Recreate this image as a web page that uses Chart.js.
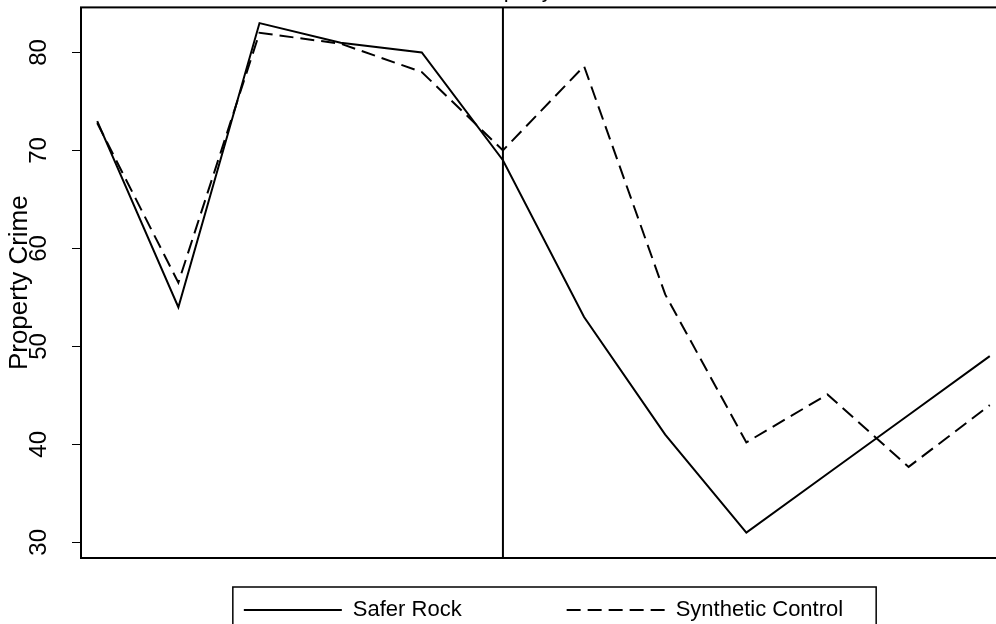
<!DOCTYPE html>
<html>
<head>
<meta charset="utf-8">
<title>Property Crime</title>
<script src="https://cdn.jsdelivr.net/npm/chart.js@4.4.1/dist/chart.umd.min.js"></script>
<style>
  html, body { margin: 0; padding: 0; background: #fff; overflow: hidden; width: 996px; height: 624px; }
  #wrap { position: absolute; left: 0; top: -22px; }
  canvas { display: block; }
</style>
</head>
<body>
<div id="wrap"><canvas id="crimeChart" width="1010" height="653"></canvas></div>
<script>
// periods along the x axis (no tick labels are shown in the figure)
const periods = [1, 2, 3, 4, 5, 6, 7, 8, 9, 10, 11, 12];
const saferRock = [73, 54, 83, 81, 80, 69, 53, 41, 31, 37, 43, 49];
const syntheticControl = [72.8, 56.5, 82, 80.9, 78, 70, 78.6, 55.3, 40.2, 45.1, 37.7, 44];
const yTicks = [30, 40, 50, 60, 70, 80];
const treatmentPeriod = 6;

Chart.defaults.font.family = '"Liberation Sans", Arial, sans-serif';
Chart.defaults.color = "#000";

// box round the plot region + treatment line
const plotFrame = {
  id: "plotFrame",
  beforeDatasetsDraw(chart) {
    const { ctx, chartArea: a, scales } = chart;
    const tx = scales.x.getPixelForValue(treatmentPeriod);
    ctx.save();
    ctx.strokeStyle = "#000";
    ctx.lineWidth = 2;
    ctx.strokeRect(a.left, a.top, a.right - a.left, a.bottom - a.top);
    ctx.beginPath();
    ctx.moveTo(tx, a.top);
    ctx.lineTo(tx, a.bottom);
    ctx.stroke();
    ctx.restore();
  },
};

// border round the legend, like the stata legend box
const legendFrame = {
  id: "legendFrame",
  afterDraw(chart) {
    const boxes = chart.legend.legendHitBoxes;
    if (!boxes || !boxes.length) return;
    const first = boxes[0];
    const last = boxes[boxes.length - 1];
    const left = first.left - 11;
    const right = last.left + last.width + 33;
    const { ctx } = chart;
    ctx.save();
    ctx.strokeStyle = "#000";
    ctx.lineWidth = 1.5;
    ctx.strokeRect(left, first.top - 12, right - left, chart.height);
    ctx.restore();
  },
};

const ctx = document.getElementById("crimeChart").getContext("2d");

new Chart(ctx, {
  type: "line",
  data: {
    datasets: [
      {
        label: "Safer Rock",
        data: periods.map((p, i) => ({ x: p, y: saferRock[i] })),
        borderColor: "#000",
        backgroundColor: "#000",
        borderWidth: 2,
        pointRadius: 0,
        tension: 0,
      },
      {
        label: "Synthetic Control",
        data: periods.map((p, i) => ({ x: p, y: syntheticControl[i] })),
        borderColor: "#000",
        backgroundColor: "#000",
        borderWidth: 2,
        borderDash: [14, 7],
        pointRadius: 0,
        tension: 0,
      },
    ],
  },
  options: {
    responsive: false,
    animation: false,
    devicePixelRatio: 1,
    events: [],
    layout: { padding: { left: 0, right: 4, top: 0, bottom: 0 } },
    scales: {
      x: {
        type: "linear",
        min: 0.8,
        max: 12.2,
        display: false,
      },
      y: {
        min: 28.4,
        max: 84.6,
        afterBuildTicks: (scale) => {
          scale.ticks = yTicks.map((v) => ({ value: v }));
        },
        afterFit: (scale) => {
          scale.width = 81;
          // labels never sit at the ends, so no extra room is needed
          scale.paddingTop = 0;
          scale.paddingBottom = 0;
        },
        grid: {
          drawOnChartArea: false,
          tickLength: 9,
          color: "#000",
          lineWidth: 1,
        },
        border: { display: false },
        ticks: {
          minRotation: 90,
          maxRotation: 90,
          crossAlign: "center",
          padding: 19,
          font: { size: 24 },
          color: "#000",
        },
        title: {
          display: true,
          text: "Property Crime",
          font: { size: 26 },
          padding: { top: 4, bottom: 0 },
          color: "#000",
        },
      },
    },
    plugins: {
      tooltip: { enabled: false },
      title: {
        display: true,
        text: "Property Crime",
        fullSize: false,
        font: { size: 22, weight: "normal" },
        padding: { top: 0, bottom: 3 },
        color: "#000",
      },
      legend: {
        position: "bottom",
        fullSize: false,
        // empty title with negative padding pulls the row up, so the
        // big horizontal gap between the two keys can stay
        title: { display: true, text: "", font: { size: 10 }, padding: { top: -76, bottom: 0 } },
        labels: {
          usePointStyle: true,
          pointStyle: "line",
          pointStyleWidth: 98,
          padding: 105,
          font: { size: 22 },
          color: "#000",
          // point style drops the dataset dash, so put it back
          generateLabels: (chart) =>
            Chart.defaults.plugins.legend.labels
              .generateLabels(chart)
              .map((item, i) => ({
                ...item,
                lineDash: chart.data.datasets[i].borderDash || [],
                lineWidth: 2,
                strokeStyle: "#000",
              })),
        },
      },
    },
  },
  plugins: [plotFrame, legendFrame],
});
</script>
</body>
</html>
